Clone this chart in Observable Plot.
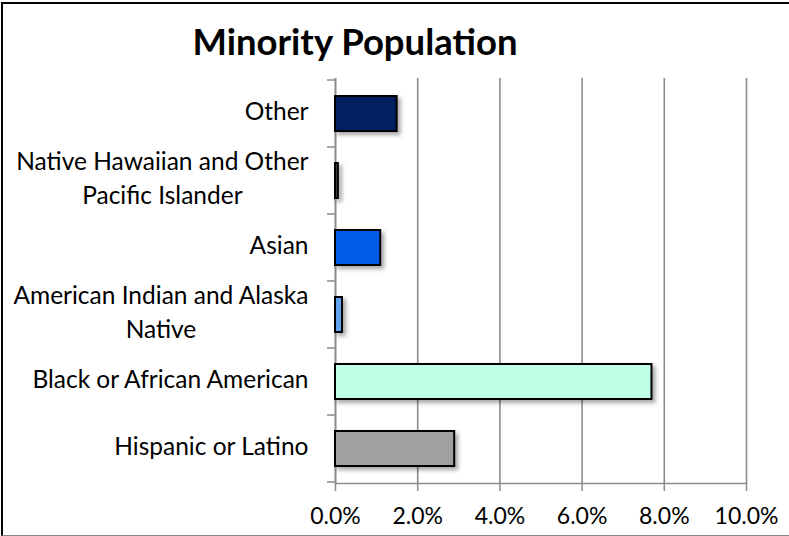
<!DOCTYPE html>
<html>
<head>
<meta charset="utf-8">
<script src="https://cdn.jsdelivr.net/npm/d3@7"></script>
<script src="https://cdn.jsdelivr.net/npm/@observablehq/plot@0.6"></script>
<style>
  html, body { margin: 0; padding: 0; background: #fff; }
  #wrap { position: relative; width: 789px; height: 536px; overflow: hidden; }
  #frame { position: absolute; left: 1px; top: 2px; width: 800px; height: 531px; border-left: 2px solid #000; border-top: 2px solid #000; border-bottom: 1.5px solid #888; pointer-events: none; }
  #title { position: absolute; left: 0; width: 710px; top: 19px; text-align: center; font: bold 36.5px Lato, sans-serif; color: #000; }
  #chart { position: absolute; left: 0; top: 0; }
  #chart svg { font-family: Lato, sans-serif; }
</style>
</head>
<body>
<div id="wrap">
  <div id="chart"></div>
  <div id="title">Minority Population</div>
  <div id="frame"></div>
</div>
<script>
// Categories, top to bottom as drawn
const categories = [
  "Other",
  "Native Hawaiian and Other Pacific Islander",
  "Asian",
  "American Indian and Alaska Native",
  "Black or African American",
  "Hispanic or Latino"
];
const tickLabels = [
  "Other",
  "Native Hawaiian and Other\nPacific Islander",
  "Asian",
  "American Indian and Alaska\nNative",
  "Black or African American",
  "Hispanic or Latino"
];
// Share of population (fraction)
const values = [0.015, 0.0007, 0.011, 0.0017, 0.077, 0.029];
const colors = ["#00205F", "#444444", "#005DE8", "#62A2F0", "#C0FFE6", "#A0A0A0"];
const xTicks = [0, 0.02, 0.04, 0.06, 0.08, 0.10];

const data = categories.map((c, i) => ({category: c, value: values[i], color: colors[i]}));
const labelOf = new Map(categories.map((c, i) => [c, tickLabels[i]]));
const pct = d => (d * 100).toFixed(1) + "%";

const gridColor = "#8C8C8C";

// tick marks at category boundaries, using the plot's own scales
function boundaryTicks(index, scales, values, dims) {
  const y = scales.y, x = scales.x;
  const x0 = x(0);
  const dom = y.domain();
  const step = y.step();
  const first = y(dom[0]) - (step - y.bandwidth()) / 2;
  const g = d3.create("svg:g").attr("stroke", gridColor).attr("stroke-width", 1.5);
  for (let k = 0; k <= dom.length; k++) {
    const yy = first + k * step;
    g.append("line").attr("x1", x0 - 8).attr("x2", x0).attr("y1", yy).attr("y2", yy);
  }
  return g.node();
}

const plot = Plot.plot({
  width: 789,
  height: 536,
  marginLeft: 335,
  marginRight: 43,
  marginTop: 78,
  marginBottom: 53,
  style: {fontFamily: "Lato, sans-serif", background: "transparent"},
  x: {domain: [0, 0.10], ticks: xTicks, tickFormat: pct, label: null},
  y: {domain: categories, paddingInner: 0.48, paddingOuter: 0.24, label: null},
  marks: [
    Plot.gridX(xTicks, {stroke: gridColor, strokeOpacity: 1, strokeWidth: 1.6}),
    Plot.ruleX([0], {stroke: gridColor, strokeWidth: 1.6}),
    Plot.frame({anchor: "bottom", stroke: gridColor, strokeWidth: 1.6}),
    boundaryTicks,
    Plot.barX(data, {x: "value", y: "category", fill: "color", stroke: "#000", strokeWidth: 2}),
    Plot.axisX(xTicks, {tickSize: 8, tickPadding: 16, stroke: gridColor, fill: "#000", fontSize: 23, strokeWidth: 1.5, tickFormat: pct, label: null}),
    Plot.axisY({tickSize: 0, tickPadding: 27, fill: "#000", fontSize: 24.5, lineHeight: 1.4, dy: -5, tickFormat: d => labelOf.get(d), label: null})
  ]
});

document.getElementById("chart").append(plot);

// drop shadow on bars
d3.select(plot).selectAll("g[aria-label='bar'] rect")
  .style("filter", "drop-shadow(3px 3px 2px rgba(0,0,0,0.35))");

// center the lines of multi-line y labels relative to each other
d3.select(plot).selectAll("g[aria-label='y-axis tick label'] text").each(function() {
  const tspans = Array.from(this.querySelectorAll("tspan"));
  if (tspans.length < 2) return;
  const widths = tspans.map(t => t.getComputedTextLength());
  const W = Math.max(...widths);
  tspans.forEach((t, i) => t.setAttribute("x", -(W - widths[i]) / 2));
});
</script>
</body>
</html>
